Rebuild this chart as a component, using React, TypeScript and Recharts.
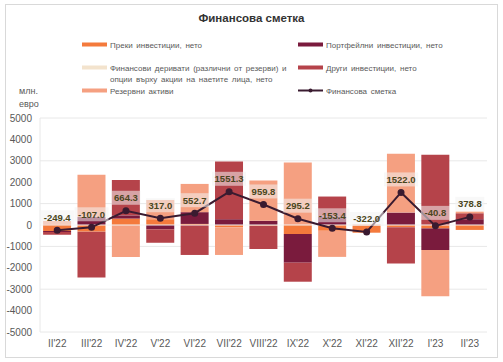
import * as React from 'react';
import {
  ComposedChart,
  Bar,
  Line,
  XAxis,
  YAxis,
  CartesianGrid,
  ReferenceLine,
  LabelList,
} from 'recharts';

const categories = ["II'22", "III'22", "IV'22", "V'22", "VI'22", "VII'22", "VIII'22", "IX'22", "X'22", "XI'22", "XII'22", "I'23", "II'23"];
const direct = [-280, -310, 300, 270, 50, -110, -30, -420, -270, -360, -100, -160, -230];
const portfolio = [-50, 380, 150, -200, 550, 270, 200, -1340, 400, 0, 580, -1010, 270];
const derivatives = [0, 0, 0, 0, 0, 0, 0, 0, 0, 0, 0, 0, 0];
const other = [-120, -2140, 1650, -630, -1400, 2700, -1090, -890, 930, 0, -1700, 3280, 280];
const reserve = [190, 1970, -1490, 900, 1320, -1290, 1880, 2920, -1220, 40, 2750, -2160, 75];
const financial = [-249.4, -107.0, 664.3, 317.0, 552.7, 1551.3, 959.8, 295.2, -153.4, -322.0, 1522.0, -40.8, 378.8];
const yTicks = [-5000, -4000, -3000, -2000, -1000, 0, 1000, 2000, 3000, 4000, 5000];

const C_DIRECT = '#f47a3c';
const C_PORT = '#7a1b3d';
const C_DERIV = '#f3e3cd';
const C_OTHER = '#b5434a';
const C_RESERVE = '#f5a081';
const C_LINE = '#3a1b30';
const FONT = '"Liberation Sans Narrow", "Arial Narrow", "Liberation Sans", Arial, sans-serif';

const data = categories.map((c, i) => ({
  cat: c,
  direct: direct[i],
  portfolio: portfolio[i],
  derivatives: derivatives[i],
  other: other[i],
  reserve: reserve[i],
  fin: financial[i],
}));

function FinLabel(props: any) {
  const { x, y, value } = props;
  const txt = Number(value).toFixed(1);
  const w = txt.length * 5 + 4;
  const cy = y - 13;
  return (
    <g>
      <rect x={x - w / 2} y={cy - 7} width={w} height={14} fill="#f2f2f2" fillOpacity={0.55} />
      <text
        x={x}
        y={cy + 3.5}
        textAnchor="middle"
        fontSize={9.5}
        fontWeight="bold"
        fontFamily={FONT}
        fill="#4a4620"
      >
        {txt}
      </text>
    </g>
  );
}

const legendLeft = [
  { label: ['Преки инвестиции, нето'], color: C_DIRECT, top: 40 },
  { label: ['Финансови деривати (различни от резерви) и', 'опции върху акции на наетите лица, нето'], color: C_DERIV, top: 63 },
  { label: ['Резервни активи'], color: C_RESERVE, top: 86 },
];
const legendRight = [
  { label: ['Портфейлни инвестиции, нето'], color: C_PORT, top: 40 },
  { label: ['Други инвестиции, нето'], color: C_OTHER, top: 63 },
];

function LegendItem({ left, top, color, label, line }: any) {
  return (
    <div style={{ position: 'absolute', left, top, display: 'flex', alignItems: 'flex-start' }}>
      <svg width={26} height={9}>
        {line ? (
          <g>
            <line x1={0} y1={4.5} x2={25} y2={4.5} stroke={C_LINE} strokeWidth={2} />
            <circle cx={12.5} cy={4.5} r={2} fill={C_LINE} />
          </g>
        ) : (
          <rect x={0} y={2.5} width={25} height={4} fill={color} />
        )}
      </svg>
      <div style={{ marginLeft: 2, fontSize: 8, lineHeight: '11px', color: '#595959', fontFamily: FONT, wordSpacing: 1.5, whiteSpace: 'nowrap' }}>
        {label.map((l: string) => (
          <div key={l}>{l}</div>
        ))}
      </div>
    </div>
  );
}

export default function App() {
  return (
    <div style={{ position: 'absolute', left: 0, top: 0, width: 503, height: 362, background: '#fff', fontFamily: FONT }}>
      <div
        style={{
          position: 'absolute',
          left: 5,
          top: 4,
          width: 491,
          height: 352,
          border: '1px solid #d9d9d9',
        }}
      />
      <div
        style={{
          position: 'absolute',
          left: 0,
          width: 503,
          top: 12,
          textAlign: 'center',
          fontSize: 11.5,
          fontWeight: 'bold',
          color: '#333',
          fontFamily: '"Liberation Sans", Arial, sans-serif',
        }}
      >
        Финансова сметка
      </div>
      {legendLeft.map((it) => (
        <LegendItem key={it.label[0]} left={82} top={it.top} color={it.color} label={it.label} />
      ))}
      {legendRight.map((it) => (
        <LegendItem key={it.label[0]} left={298} top={it.top} color={it.color} label={it.label} />
      ))}
      <LegendItem left={298} top={86} line label={['Финансова сметка']} />
      <div style={{ position: 'absolute', left: 19, top: 85, fontSize: 9, lineHeight: '13px', color: '#595959' }}>
        <div>млн.</div>
        <div>евро</div>
      </div>
      <div style={{ position: 'absolute', left: 0, top: 0 }}>
        <ComposedChart
          width={503}
          height={362}
          data={data}
          stackOffset="sign"
          barCategoryGap="9%"
          margin={{ top: 118, right: 16, bottom: 0, left: 5 }}
        >
          <CartesianGrid vertical={false} stroke="#e8e8e8" />
          <XAxis
            dataKey="cat"
            height={30}
            axisLine={false}
            tickLine={false}
            tick={{ fontSize: 10, fill: '#595959', fontFamily: FONT }}
            interval={0}
          />
          <YAxis
            width={35}
            domain={[-5000, 5000]}
            ticks={yTicks}
            axisLine={{ stroke: '#e8e8e8' }}
            tickLine={false}
            tick={{ fontSize: 10, fill: '#595959', fontFamily: FONT }}
          />
          <Bar dataKey="direct" stackId="a" fill={C_DIRECT} isAnimationActive={false} />
          <Bar dataKey="portfolio" stackId="a" fill={C_PORT} isAnimationActive={false} />
          <Bar dataKey="derivatives" stackId="a" fill={C_DERIV} isAnimationActive={false} />
          <Bar dataKey="other" stackId="a" fill={C_OTHER} isAnimationActive={false} />
          <Bar dataKey="reserve" stackId="a" fill={C_RESERVE} isAnimationActive={false} />
          <ReferenceLine y={0} stroke="#f4f4f4" strokeWidth={1} />
          <Line
            dataKey="fin"
            stroke={C_LINE}
            strokeWidth={2}
            dot={{ r: 2.5, fill: C_LINE, stroke: C_LINE }}
            isAnimationActive={false}
          >
            <LabelList dataKey="fin" content={FinLabel} />
          </Line>
        </ComposedChart>
      </div>
    </div>
  );
}
